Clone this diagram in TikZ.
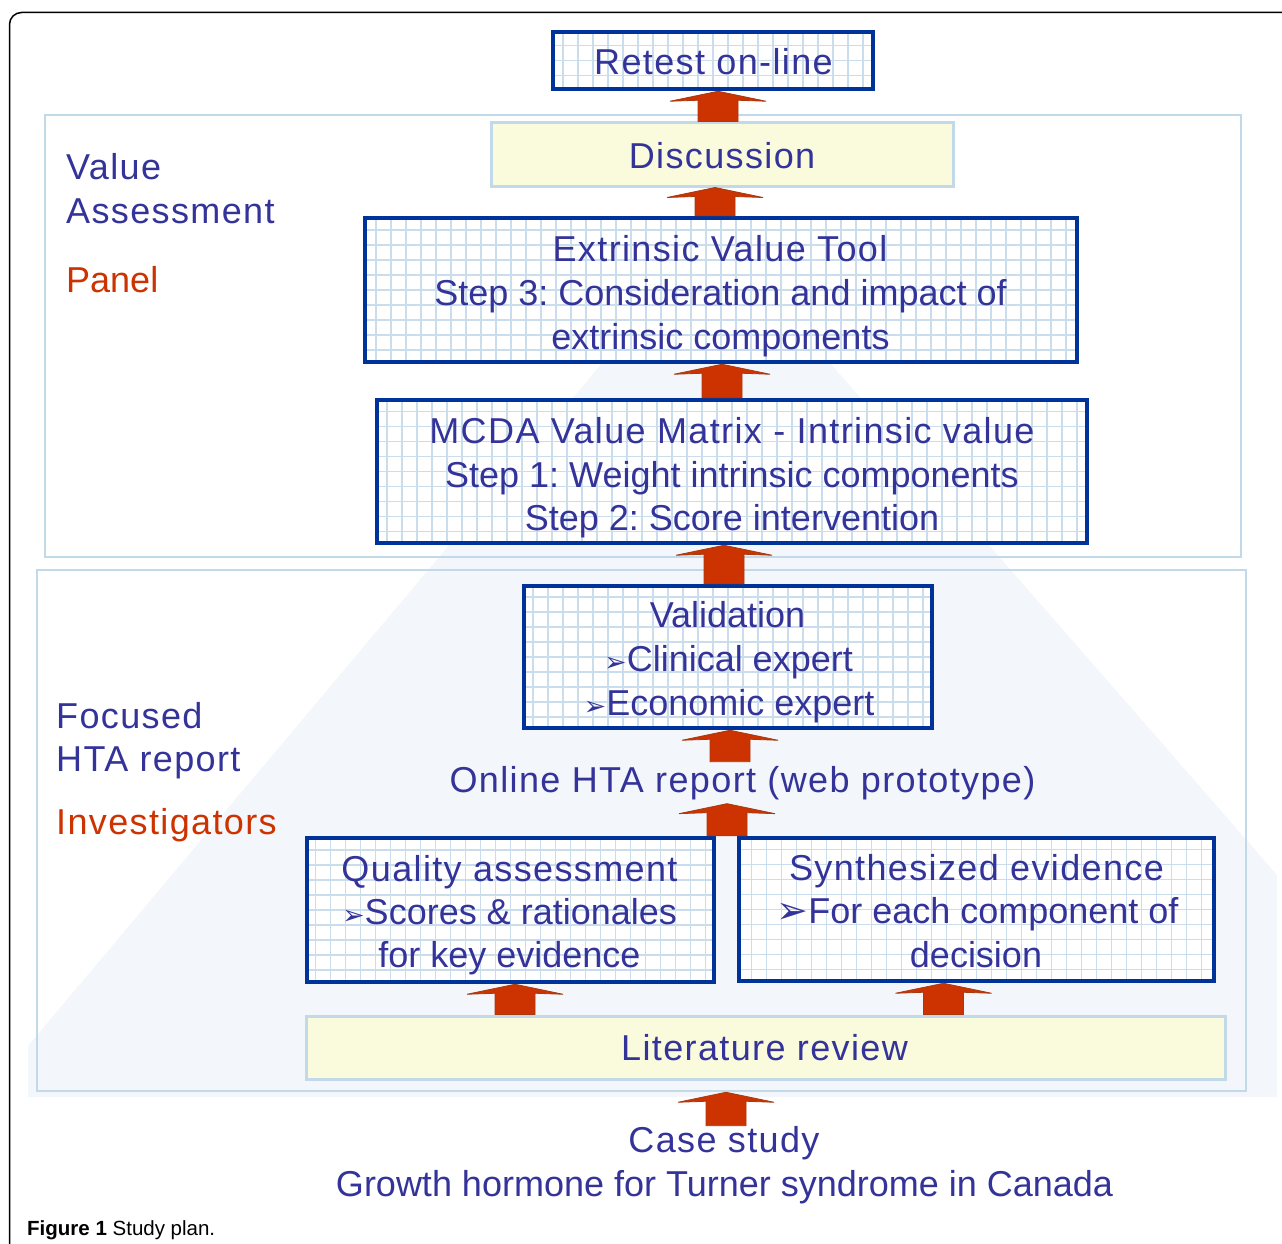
\documentclass[tikz,border=0pt]{standalone}
\usepackage{fontspec}
\setmainfont{Liberation Sans}
\newfontfamily\spc[LetterSpace=3.8]{Liberation Sans}
\newfontfamily\sym{DejaVu Sans}
\usetikzlibrary{calc}
\frenchspacing
\definecolor{txtblue}{HTML}{333399}
\definecolor{txtred}{HTML}{CC3300}
\definecolor{boxblue}{HTML}{003399}
\definecolor{panelblue}{HTML}{C2D9EA}
\definecolor{gridblue}{HTML}{CADDEC}
\definecolor{yel}{HTML}{FAFADC}
\definecolor{arrred}{HTML}{CC3300}
\definecolor{arrdark}{HTML}{A83A10}
\definecolor{pyr}{HTML}{F3F6FA}
\tikzset{
  gbox/.style={draw=boxblue, line width=4.5pt, fill=white, inner sep=0pt,
    path picture={\draw[gridblue, line width=1.1pt, step=15pt]
      (path picture bounding box.south west) grid (path picture bounding box.north east);}},
  ybox/.style={draw=panelblue, line width=3pt, fill=yel, inner sep=0pt},
  panel/.style={draw=panelblue, line width=2.5pt, inner sep=0pt},
  txt/.style={text=txtblue, font=\fontsize{36}{44}\selectfont, inner sep=0pt, anchor=base},
  ltxt/.style={txt, anchor=base west},
  rtxt/.style={ltxt, text=txtred},
  barrow/.style={fill=arrred, draw=arrdark, line width=0.8pt, line join=miter},
}
\newcommand\blockarr[2]{%
  \filldraw[barrow] let \p1=(#1), \p2=(#2) in
   (\x1-20pt,\y1) -- (\x1-20pt,\y2-9pt) -- (\x1-48pt,\y2-10pt) -- (\x1,\y2)
   -- (\x1+48pt,\y2-10pt) -- (\x1+20pt,\y2-9pt) -- (\x1+20pt,\y1) -- cycle;}
\newcommand\sbul{{\sym\fontsize{27}{28}\selectfont ➢}}
\newcommand\bbul{{\sym\fontsize{38}{40}\selectfont ➢}}
\begin{document}
\begin{tikzpicture}[x=1pt,y=-1pt]
\useasboundingbox (0,0) rectangle (1282,1244);
% background pyramid
\fill[pyr] (714,230) -- (28,1046) -- (28,1097) -- (1277,1097) -- (1277,875) -- cycle;
% outer frame
\draw[line width=1.5pt, rounded corners=12pt] (9.5,1250) -- (9.5,12.5) -- (1290,12.5);
% panels
\node[panel, minimum width=1196pt, minimum height=442pt] (upper) at (643,336) {};
\node[panel, minimum width=1209pt, minimum height=521pt] (lower) at (641.5,830.5) {};
% boxes
\node[gbox, minimum width=320pt, minimum height=57pt] (retest) at (713,60.5) {};
\node[ybox, minimum width=462pt, minimum height=63pt] (disc) at (722,154.5) {};
\node[gbox, minimum width=712pt, minimum height=144pt] (extr) at (721,290) {};
\node[gbox, minimum width=710pt, minimum height=143pt] (mcda) at (732,471.5) {};
\node[gbox, minimum width=408pt, minimum height=142pt] (valid) at (728,657) {};
\node[gbox, minimum width=407pt, minimum height=144pt] (qa) at (510.5,910) {};
\node[gbox, minimum width=475pt, minimum height=143pt] (synth) at (976.5,909.5) {};
\node[ybox, minimum width=919pt, minimum height=63pt] (lit) at (765.5,1047.5) {};
% texts
\node[txt] (tretest) at (713.5,75) {\spc Retest on-line};
\node[txt] (tdisc) at (722,168) {\spc Discussion};
\node[txt] (te1) at (720,261) {\spc Extrinsic Value Tool};
\node[txt] (te2) at (720.5,305) {Step 3: Consideration and impact of};
\node[txt] (te3) at (720.5,349) {extrinsic components};
\node[txt] (tm1) at (732,443) {\spc MCDA Value Matrix - Intrinsic value};
\node[txt] (tm2) at (732,487) {Step 1: Weight intrinsic components};
\node[txt] (tm3) at (732,530) {Step 2: Score intervention};
\node[txt] (tv1) at (727.5,627) {Validation};
\node[txt] (tv2) at (728.5,671) {\sbul Clinical expert};
\node[txt] (tv3) at (729,715) {\sbul Economic expert};
\node[txt, inner sep=4pt] (online) at (742.5,792) {\spc Online HTA report (web prototype)};
\node[txt] (tq1) at (509.5,881) {\spc Quality assessment};
\node[txt] (tq2) at (509.5,924) {\sbul Scores \& rationales};
\node[txt] (tq3) at (509.5,967) {for key evidence};
\node[txt] (ts1) at (976.5,880) {\spc Synthesized evidence};
\node[txt] (ts2) at (977.5,923) {\bbul For each component of};
\node[txt] (ts3) at (976,967) {decision};
\node[txt] (tlit) at (764.5,1060.5) {\spc Literature review};
\node[txt] (case) at (724,1152) {\spc Case study};
\node[txt] (growth) at (724.5,1196) {Growth hormone for Turner syndrome in Canada};
% side labels
\node[ltxt] (lv1) at (66,179) {\spc Value};
\node[ltxt] (lv2) at (66,223) {\spc Assessment};
\node[rtxt] (lv3) at (66,292) {Panel};
\node[ltxt] (lf1) at (56,728) {\spc Focused};
\node[ltxt] (lf2) at (56,771) {\spc HTA report};
\node[rtxt] (lf3) at (56,834) {\spc Investigators};
% caption
\node[anchor=base west, inner sep=0pt, font=\fontsize{20.5}{24}\selectfont] (cap) at (27,1235) {\textbf{Figure 1} Study plan.};
% arrow axes
\coordinate (a1) at (718,0);
\coordinate (a2) at (715,0);
\coordinate (a3) at (722,0);
\coordinate (a4) at (724,0);
\coordinate (a5) at (730,0);
\coordinate (a6) at (727,0);
\coordinate (a7) at (515,0);
\coordinate (a8) at (943.5,0);
\coordinate (a9) at (726,0);
% arrows
\blockarr{disc.north -| a1}{retest.south -| a1}
\blockarr{extr.north -| a2}{disc.south -| a2}
\blockarr{mcda.north -| a3}{extr.south -| a3}
\blockarr{valid.north -| a4}{mcda.south -| a4}
\blockarr{online.north -| a5}{valid.south -| a5}
\blockarr{qa.north -| a6}{online.south -| a6}
\blockarr{lit.north -| a7}{qa.south -| a7}
\blockarr{lit.north -| a8}{synth.south -| a8}
\blockarr{case.north -| a9}{lower.south -| a9}
\end{tikzpicture}
\end{document}
